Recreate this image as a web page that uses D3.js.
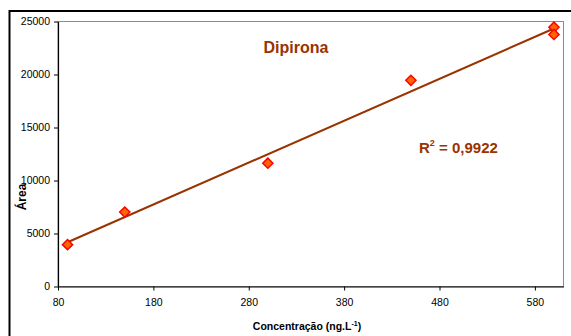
<!DOCTYPE html>
<html>
<head>
<meta charset="utf-8">
<script src="https://cdn.jsdelivr.net/npm/d3@7"></script>
<style>
  body { margin: 0; background: #fff; }
  svg { display: block; font-family: Arial, "Liberation Sans", sans-serif; }
</style>
</head>
<body>
<div id="chart"></div>
<script>
// calibration points
const concentrations = [90, 150, 300, 450, 600, 600];
const areas = [3950, 7020, 11630, 19450, 24460, 23780];
const xTicks = [80, 180, 280, 380, 480, 580];
const yTicks = [0, 5000, 10000, 15000, 20000, 25000];
const chartTitle = 'Dipirona';
const r2Label = '0,9922';

const width = 571, height = 336;
const plot = { left: 58, top: 21.5, right: 563.5, bottom: 286.5 };

const svg = d3.select('#chart').append('svg')
  .attr('width', width)
  .attr('height', height);

// outer chart frame (runs off the picture at right and bottom)
svg.append('rect')
  .attr('x', 9.5).attr('y', 11)
  .attr('width', 600).attr('height', 400)
  .attr('fill', '#fff')
  .attr('stroke', '#000')
  .attr('stroke-width', 2);

const x = d3.scaleLinear().domain([80, 610]).range([plot.left, plot.right]);
const y = d3.scaleLinear().domain([0, 25000]).range([plot.bottom, plot.top]);

// plot area border
svg.append('rect')
  .attr('x', plot.left).attr('y', plot.top)
  .attr('width', plot.right - plot.left)
  .attr('height', plot.bottom - plot.top)
  .attr('fill', '#fff')
  .attr('stroke', '#8c8c8c')
  .attr('stroke-width', 1);

const xAxis = svg.append('g')
  .attr('transform', 'translate(0,' + plot.bottom + ')')
  .call(d3.axisBottom(x).tickValues(xTicks).tickFormat(d3.format('d'))
    .tickSize(4).tickSizeOuter(0).tickPadding(8));

const yAxis = svg.append('g')
  .attr('transform', 'translate(' + plot.left + ',0)')
  .call(d3.axisLeft(y).tickValues(yTicks).tickFormat(d3.format('d'))
    .tickSize(4).tickSizeOuter(0).tickPadding(4));

[xAxis, yAxis].forEach(g => {
  g.select('.domain').attr('stroke', '#000').attr('stroke-width', 1.2);
  g.selectAll('.tick line').attr('stroke', '#000');
  g.selectAll('.tick text')
    .attr('fill', '#000')
    .style('font-size', '10.5px')
    .style('font-family', 'Arial, "Liberation Sans", sans-serif');
});
xAxis.selectAll('.tick text').attr('dy', '0.71em');

// linear trendline (least squares, like the spreadsheet trendline)
const mx = d3.mean(concentrations), my = d3.mean(areas);
let sxy = 0, sxx = 0;
concentrations.forEach((c, i) => {
  sxy += (c - mx) * (areas[i] - my);
  sxx += (c - mx) * (c - mx);
});
const slope = sxy / sxx;
const intercept = my - slope * mx;
const xr = d3.extent(concentrations);

svg.append('line')
  .attr('x1', x(xr[0])).attr('y1', y(intercept + slope * xr[0]))
  .attr('x2', x(xr[1])).attr('y2', y(intercept + slope * xr[1]))
  .attr('stroke', '#993300')
  .attr('stroke-width', 2);

// diamond markers
const diamond = d3.symbol().type(d3.symbolDiamond2).size(66);
svg.selectAll('.pt')
  .data(concentrations.map((c, i) => [c, areas[i]]))
  .enter().append('path')
  .attr('class', 'pt')
  .attr('d', diamond)
  .attr('transform', d => 'translate(' + x(d[0]) + ',' + y(d[1]) + ')')
  .attr('fill', '#ff6600')
  .attr('stroke', '#ff0000')
  .attr('stroke-width', 1.5);

// title inside the plot
svg.append('text')
  .attr('x', 296).attr('y', 53)
  .attr('text-anchor', 'middle')
  .attr('fill', '#993300')
  .style('font-size', '16px')
  .style('font-weight', 'bold')
  .text(chartTitle);

// R squared label
const r2 = svg.append('text')
  .attr('x', 419).attr('y', 153)
  .attr('fill', '#993300')
  .style('font-size', '15px')
  .style('font-weight', 'bold');
r2.append('tspan').text('R');
r2.append('tspan').attr('dy', -7).style('font-size', '9px').text('2');
r2.append('tspan').attr('dy', 7).text(' = ' + r2Label);

// axis titles
svg.append('text')
  .attr('transform', 'translate(26,197) rotate(-90)')
  .attr('text-anchor', 'middle')
  .attr('fill', '#000')
  .style('font-size', '12px')
  .style('font-weight', 'bold')
  .text('Área');

const xt = svg.append('text')
  .attr('x', 307).attr('y', 330)
  .attr('text-anchor', 'middle')
  .attr('fill', '#000')
  .style('font-size', '10.5px')
  .style('font-weight', 'bold');
xt.append('tspan').text('Concentração (ng.L');
xt.append('tspan').attr('dy', -4).style('font-size', '7px').text('-1');
xt.append('tspan').attr('dy', 4).text(')');
</script>
</body>
</html>
